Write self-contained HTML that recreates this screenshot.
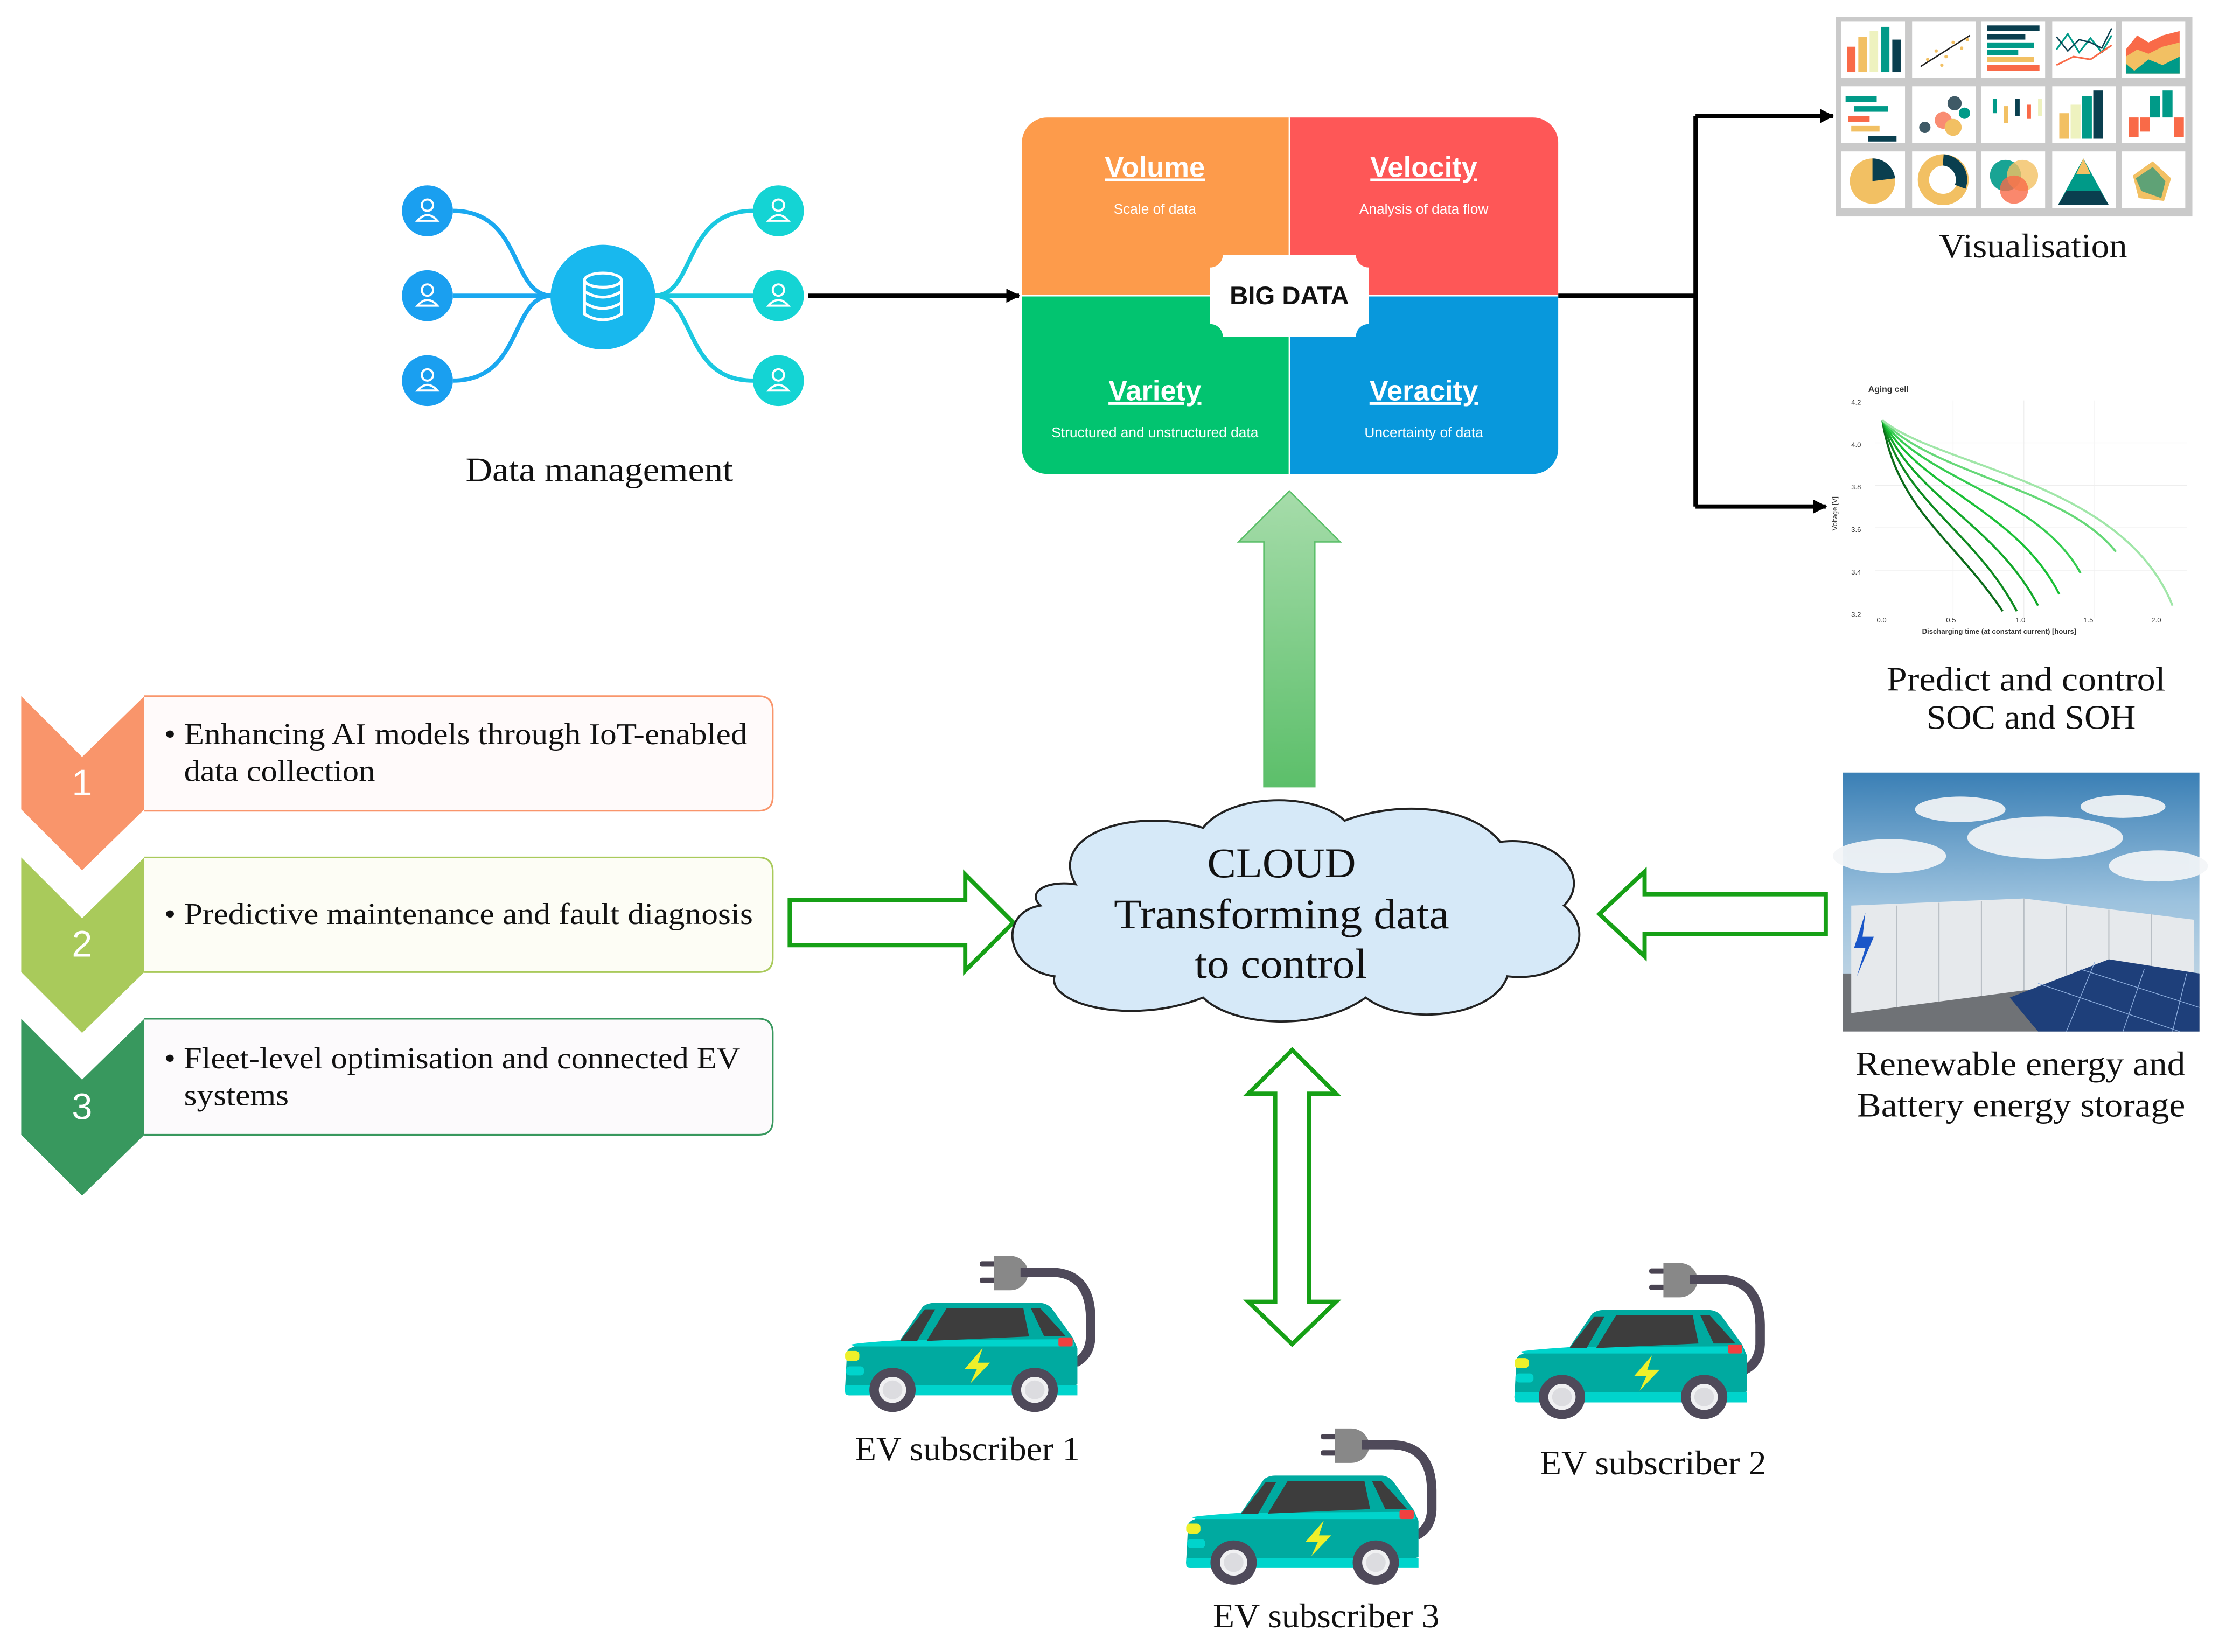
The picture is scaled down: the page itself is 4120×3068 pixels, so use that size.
<!DOCTYPE html>
<html><head><meta charset="utf-8"><style>
html,body{margin:0;padding:0;background:#fff}
svg{display:block}
.serif{font-family:"Liberation Serif",serif;fill:#111}
.sans{font-family:"Liberation Sans",sans-serif}
</style></head><body>
<svg width="4120" height="3068" viewBox="0 0 1560 1161.7" preserveAspectRatio="none" xmlns="http://www.w3.org/2000/svg">
<defs>
<marker id="ah" markerWidth="10" markerHeight="10" refX="9" refY="5" orient="auto" markerUnits="userSpaceOnUse"><path d="M0,0 L10,5 L0,10 Z" fill="#000"/></marker>
<linearGradient id="upg" x1="0" y1="0" x2="0" y2="1"><stop offset="0" stop-color="#a6dcaa"/><stop offset="1" stop-color="#5cbf6a"/></linearGradient>
<linearGradient id="sky" x1="0" y1="0" x2="0" y2="1"><stop offset="0" stop-color="#3a7fb5"/><stop offset="0.5" stop-color="#9cc2de"/><stop offset="1" stop-color="#d3dee6"/></linearGradient>
<g id="car">
<rect x="760" y="140" width="85" height="30" rx="12" fill="#4a4452"/>
<rect x="760" y="230" width="85" height="30" rx="12" fill="#4a4452"/>
<path d="M835,110 H920 A95,95 0 0 1 920,300 H835 Z" fill="#888"/>
<path d="M975,200 H1140 Q1340,205 1345,450 V560 Q1340,660 1265,700" stroke="#4f4a5a" stroke-width="50" fill="none"/>
<path d="M60,640 Q70,610 140,600 L340,575 L460,390 Q485,370 520,370 L1080,370 Q1115,372 1140,400 L1250,560 L1275,620 L1275,820 Q1200,840 1150,870 L70,880 Q45,870 50,840 Z" fill="#00aaa0"/>
<path d="M50,825 H1275 V880 H70 Q50,880 50,860 Z" fill="#00d4cc"/>
<path d="M80,600 Q120,590 340,575 L1250,570 L1260,610 H100 Z" fill="#00d4cc"/>
<path d="M340,580 L470,405 L525,405 L430,580 Z" fill="#3d3d3d"/>
<path d="M480,580 L585,400 L990,400 L1020,555 Z" fill="#3d3d3d"/>
<path d="M1030,400 L1080,400 L1215,555 L1100,555 Z" fill="#3d3d3d"/>
<rect x="1175" y="560" width="75" height="50" rx="10" fill="#f04040"/>
<rect x="50" y="635" width="75" height="55" rx="20" fill="#eef02a"/>
<rect x="55" y="720" width="95" height="50" rx="20" fill="#00d4cc"/>
<path d="M775,620 L680,735 L745,735 L710,815 L815,700 L750,700 Z" fill="#eef02a"/>
<circle cx="300" cy="850" r="122" fill="#4f4a5a"/><circle cx="300" cy="850" r="72" fill="#f0f0f2"/><circle cx="300" cy="850" r="52" fill="#dcdce0"/>
<circle cx="1050" cy="850" r="122" fill="#4f4a5a"/><circle cx="1050" cy="850" r="72" fill="#f0f0f2"/><circle cx="1050" cy="850" r="52" fill="#dcdce0"/>
</g>
</defs>
<g transform="scale(0.995)">

<!-- Data management -->
<g fill="none" stroke-width="3">
<path d="M320,149 C370,149 360,209 390,209" stroke="#1aa8f0"/>
<path d="M320,209 H390" stroke="#1aa8f0"/>
<path d="M320,269 C370,269 360,209 390,209" stroke="#1aa8f0"/>
<path d="M532,149 C482,149 492,209 462,209" stroke="#1ac8e0"/>
<path d="M532,209 H462" stroke="#1ac8e0"/>
<path d="M532,269 C482,269 492,209 462,209" stroke="#1ac8e0"/>
</g>
<circle cx="426" cy="210" r="37" fill="#18b8ee"/>
<g fill="none" stroke="#fff" stroke-width="2"><ellipse cx="426" cy="198" rx="13" ry="5"/><path d="M413,198 V222 Q426,230 439,222 V198 M413,206 Q426,214 439,206 M413,214 Q426,222 439,214"/></g>
<g fill="#1a9ff0"><circle cx="302" cy="149" r="18"/><circle cx="302" cy="209" r="18"/><circle cx="302" cy="269" r="18"/></g>
<g fill="#14d4d4"><circle cx="550" cy="149" r="18"/><circle cx="550" cy="209" r="18"/><circle cx="550" cy="269" r="18"/></g>
<g fill="none" stroke="#fff" stroke-width="1.5">
<circle cx="302" cy="145" r="4"/><path d="M295,156 Q302,148 309,156 Z"/>
<circle cx="302" cy="205" r="4"/><path d="M295,216 Q302,208 309,216 Z"/>
<circle cx="302" cy="265" r="4"/><path d="M295,276 Q302,268 309,276 Z"/>
<circle cx="550" cy="145" r="4"/><path d="M543,156 Q550,148 557,156 Z"/>
<circle cx="550" cy="205" r="4"/><path d="M543,216 Q550,208 557,216 Z"/>
<circle cx="550" cy="265" r="4"/><path d="M543,276 Q550,268 557,276 Z"/>
</g>
<text x="329" y="340" class="serif" font-size="24" textLength="189" lengthAdjust="spacingAndGlyphs">Data management</text>
<line x1="571" y1="209" x2="720" y2="209" stroke="#000" stroke-width="3" marker-end="url(#ah)"/>

<!-- Big data -->
<clipPath id="bdc"><rect x="722" y="83" width="379" height="252" rx="18"/></clipPath>
<g clip-path="url(#bdc)">
<rect x="722" y="83" width="189" height="126" fill="#fd9b4b"/>
<rect x="911" y="83" width="190" height="126" fill="#fe5757"/>
<rect x="722" y="209" width="189" height="126" fill="#02c470"/>
<rect x="911" y="209" width="190" height="126" fill="#0898dc"/>
</g>
<line x1="911" y1="83" x2="911" y2="335" stroke="#fff" stroke-width="1"/>
<line x1="722" y1="209" x2="1101" y2="209" stroke="#fff" stroke-width="1"/>
<path d="M864,180 H958 A9,9 0 0 0 967,189 V229 A9,9 0 0 0 958,238 H864 A9,9 0 0 0 855,229 V189 A9,9 0 0 0 864,180 Z" fill="#fff"/>
<text x="911" y="215" class="sans" font-size="18" font-weight="bold" text-anchor="middle" fill="#111">BIG DATA</text>
<g class="sans" fill="#fff" text-anchor="middle">
<text x="816" y="125" font-size="20" font-weight="bold" text-decoration="underline">Volume</text>
<text x="1006" y="125" font-size="20" font-weight="bold" text-decoration="underline">Velocity</text>
<text x="816" y="283" font-size="20" font-weight="bold" text-decoration="underline">Variety</text>
<text x="1006" y="283" font-size="20" font-weight="bold" text-decoration="underline">Veracity</text>
<text x="816" y="151" font-size="10">Scale of data</text>
<text x="1006" y="151" font-size="10">Analysis of data flow</text>
<text x="816" y="309" font-size="10">Structured and unstructured data</text>
<text x="1006" y="309" font-size="10">Uncertainty of data</text>
</g>
<polyline points="1101,209 1198,209" stroke="#000" stroke-width="3" fill="none"/>
<line x1="1198" y1="82" x2="1198" y2="358" stroke="#000" stroke-width="3"/>
<line x1="1198" y1="82" x2="1295" y2="82" stroke="#000" stroke-width="3" marker-end="url(#ah)"/>
<line x1="1198" y1="358" x2="1290" y2="358" stroke="#000" stroke-width="3" marker-end="url(#ah)"/>

<!-- Visualisation grid -->
<rect x="1297" y="12" width="252" height="141" fill="#cacaca"/>
<g fill="#fff">
<rect x="1301" y="15" width="45" height="40"/><rect x="1351" y="15" width="45" height="40"/><rect x="1400" y="15" width="45" height="40"/><rect x="1450" y="15" width="45" height="40"/><rect x="1499" y="15" width="45" height="40"/>
<rect x="1301" y="61" width="45" height="40"/><rect x="1351" y="61" width="45" height="40"/><rect x="1400" y="61" width="45" height="40"/><rect x="1450" y="61" width="45" height="40"/><rect x="1499" y="61" width="45" height="40"/>
<rect x="1301" y="107" width="45" height="40"/><rect x="1351" y="107" width="45" height="40"/><rect x="1400" y="107" width="45" height="40"/><rect x="1450" y="107" width="45" height="40"/><rect x="1499" y="107" width="45" height="40"/>
</g>
<g>
<rect x="1305" y="33" width="6" height="18" fill="#f96a48"/><rect x="1313" y="26" width="6" height="25" fill="#f2c063"/><rect x="1321" y="22" width="6" height="29" fill="#eef2bf"/><rect x="1329" y="19" width="6" height="32" fill="#009a88"/><rect x="1337" y="28" width="6" height="23" fill="#0a3f4f"/>
<line x1="1357" y1="47" x2="1392" y2="25" stroke="#222"/>
<g fill="#f2c063"><circle cx="1362" cy="42" r="1.2"/><circle cx="1368" cy="36" r="1.2"/><circle cx="1375" cy="40" r="1.2"/><circle cx="1380" cy="30" r="1.2"/><circle cx="1386" cy="34" r="1.2"/><circle cx="1372" cy="46" r="1.2"/><circle cx="1390" cy="28" r="1.2"/></g>
<rect x="1404" y="18" width="37" height="4" fill="#0a3f4f"/><rect x="1404" y="24" width="27" height="4" fill="#0a3f4f"/><rect x="1404" y="30" width="33" height="4" fill="#009a88"/><rect x="1404" y="35" width="22" height="4" fill="#009a88"/><rect x="1404" y="40" width="33" height="4" fill="#f2c063"/><rect x="1404" y="46" width="37" height="4" fill="#f96a48"/>
<polyline points="1453,35 1461,24 1469,37 1477,27 1485,37 1492,25" fill="none" stroke="#009a88" stroke-width="1.2"/><polyline points="1453,26 1461,36 1469,28 1477,30 1485,34 1492,20" fill="none" stroke="#0a3f4f" stroke-width="1"/><polyline points="1453,46 1465,40 1477,42 1492,32" fill="none" stroke="#f96a48" stroke-width="1.2"/>
<path d="M1502,35 L1510,25 L1518,30 L1528,25 L1540,22 V52 H1502 Z" fill="#f96a48"/><path d="M1502,40 L1510,35 L1518,38 L1528,33 L1540,30 V52 H1502 Z" fill="#f2c063"/><path d="M1502,45 L1508,50 L1518,42 L1528,46 L1540,40 V52 H1502 Z" fill="#009a88"/>
<rect x="1304" y="68" width="22" height="4" fill="#009a88"/><rect x="1310" y="75" width="24" height="4" fill="#009a88"/><rect x="1306" y="82" width="15" height="4" fill="#f96a48"/><rect x="1308" y="89" width="20" height="4" fill="#f2c063"/><rect x="1320" y="96" width="20" height="4" fill="#0a3f4f"/>
<circle cx="1381" cy="73" r="5" fill="#3f5a66"/><circle cx="1373" cy="85" r="6" fill="#f98c72"/><circle cx="1380" cy="90" r="6" fill="#f2c063"/><circle cx="1388" cy="80" r="4" fill="#009a88"/><circle cx="1360" cy="90" r="4" fill="#3f5a66"/>
<rect x="1408" y="70" width="3" height="10" fill="#009a88"/><rect x="1416" y="75" width="3" height="12" fill="#f2c063"/><rect x="1424" y="70" width="3" height="12" fill="#0a3f4f"/><rect x="1432" y="74" width="3" height="10" fill="#f96a48"/><rect x="1440" y="70" width="3" height="12" fill="#eef2bf"/>
<rect x="1455" y="80" width="7" height="18" fill="#f2c063"/><rect x="1463" y="74" width="7" height="24" fill="#eef2bf"/><rect x="1471" y="68" width="7" height="30" fill="#009a88"/><rect x="1479" y="64" width="7" height="34" fill="#0a3f4f"/>
<rect x="1519" y="68" width="7" height="15" fill="#009a88"/><rect x="1528" y="64" width="7" height="19" fill="#009a88"/><rect x="1504" y="83" width="7" height="14" fill="#f96a48"/><rect x="1512" y="83" width="7" height="10" fill="#f96a48"/><rect x="1536" y="83" width="7" height="14" fill="#f96a48"/>
<circle cx="1323" cy="128" r="16" fill="#f2c063"/><path d="M1323,128 V112 A16,16 0 0 1 1339,126 Z" fill="#0a3f4f"/>
<circle cx="1373" cy="127" r="14" fill="none" stroke="#f2c063" stroke-width="8"/><path d="M1373,113 A14,14 0 0 1 1385,132" fill="none" stroke="#0a3f4f" stroke-width="8"/>
<circle cx="1417" cy="124" r="11" fill="#009a88" opacity="0.9"/><circle cx="1429" cy="124" r="11" fill="#f2c063" opacity="0.8"/><circle cx="1423" cy="134" r="10" fill="#f96a48" opacity="0.8"/>
<path d="M1472,112 L1490,145 H1454 Z" fill="#009a88"/><path d="M1472,112 L1477,123 H1467 Z" fill="#f2c063"/><path d="M1460,135 H1484 L1490,145 H1454 Z" fill="#0a3f4f"/>
<path d="M1521,114 L1534,126 L1529,142 L1511,140 L1507,124 Z" fill="#f2c063"/><path d="M1521,118 L1530,128 L1527,140 L1513,135 L1509,126 Z" fill="#3a9a7a" opacity="0.8"/>
</g>
<text x="1370" y="182" class="serif" font-size="24" textLength="133" lengthAdjust="spacingAndGlyphs">Visualisation</text>

<!-- chart -->
<g class="sans" font-size="5" fill="#333">
<text x="1320" y="277" font-weight="bold" font-size="6">Aging cell</text>
<text x="1308" y="286">4.2</text><text x="1308" y="316">4.0</text><text x="1308" y="346">3.8</text><text x="1308" y="376">3.6</text><text x="1308" y="406">3.4</text><text x="1308" y="436">3.2</text>
<text x="1326" y="440">0.0</text><text x="1375" y="440">0.5</text><text x="1424" y="440">1.0</text><text x="1472" y="440">1.5</text><text x="1520" y="440">2.0</text>
<text x="1358" y="448" font-weight="bold">Discharging time (at constant current) [hours]</text>
<text x="1298" y="375" transform="rotate(-90 1298 375)">Voltage [V]</text>
</g>
<g stroke="#eee" stroke-width="0.5"><line x1="1325" y1="313" x2="1545" y2="313"/><line x1="1325" y1="343" x2="1545" y2="343"/><line x1="1325" y1="373" x2="1545" y2="373"/><line x1="1325" y1="403" x2="1545" y2="403"/><line x1="1380" y1="283" x2="1380" y2="437"/><line x1="1430" y1="283" x2="1430" y2="437"/><line x1="1480" y1="283" x2="1480" y2="437"/></g>
<g fill="none" stroke-width="1.5">
<path d="M1330,297 C1340,360 1380,380 1415,432" stroke="#0b6b1a"/>
<path d="M1330,297 C1345,355 1395,375 1425,432" stroke="#0e8a20"/>
<path d="M1330,297 C1350,350 1410,370 1440,428" stroke="#12a82a"/>
<path d="M1330,297 C1355,345 1425,360 1455,420" stroke="#19c035"/>
<path d="M1330,297 C1360,340 1440,350 1470,405" stroke="#35cc50"/>
<path d="M1330,297 C1365,335 1460,345 1495,390" stroke="#66d878"/>
<path d="M1330,297 C1370,330 1500,340 1535,428" stroke="#a0e6a8"/>
</g>
<text x="1333" y="488" class="serif" font-size="24" textLength="197" lengthAdjust="spacingAndGlyphs">Predict and control</text>
<text x="1361" y="515" class="serif" font-size="24" textLength="148" lengthAdjust="spacingAndGlyphs">SOC and SOH</text>

<!-- renewable image -->
<rect x="1302" y="546" width="252" height="183" fill="url(#sky)"/>
<g fill="#f3f5f7" opacity="0.92"><ellipse cx="1335" cy="605" rx="40" ry="12"/><ellipse cx="1445" cy="592" rx="55" ry="15"/><ellipse cx="1525" cy="612" rx="35" ry="11"/><ellipse cx="1385" cy="572" rx="32" ry="9"/><ellipse cx="1500" cy="570" rx="30" ry="8"/></g>
<rect x="1302" y="688" width="252" height="41" fill="#6f7276"/>
<path d="M1308,640 L1430,635 L1550,650 L1550,695 L1430,700 L1308,716 Z" fill="#e6e9ec"/>
<g stroke="#b9bfc5" stroke-width="0.8"><line x1="1340" y1="640" x2="1340" y2="712"/><line x1="1370" y1="638" x2="1370" y2="708"/><line x1="1400" y1="637" x2="1400" y2="704"/><line x1="1430" y1="635" x2="1430" y2="700"/><line x1="1460" y1="640" x2="1460" y2="698"/><line x1="1490" y1="643" x2="1490" y2="697"/><line x1="1520" y1="646" x2="1520" y2="696"/></g>
<path d="M1420,705 L1490,678 L1554,688 L1554,729 L1440,729 Z" fill="#1e3f7a"/>
<g stroke="#8fb0e0" stroke-width="0.5"><line x1="1440" y1="695" x2="1540" y2="729"/><line x1="1470" y1="685" x2="1554" y2="712"/><line x1="1480" y1="680" x2="1460" y2="729"/><line x1="1515" y1="685" x2="1500" y2="729"/><line x1="1545" y1="688" x2="1535" y2="729"/></g>
<path d="M1318,645 L1310,670 L1318,670 L1312,690 L1324,662 L1316,662 Z" fill="#1a56c8"/>
<text x="1311" y="760" class="serif" font-size="24" textLength="233" lengthAdjust="spacingAndGlyphs">Renewable energy and</text>
<text x="1312" y="789" class="serif" font-size="24" textLength="232" lengthAdjust="spacingAndGlyphs">Battery energy storage</text>

<!-- arrows to cloud -->
<path d="M558,636 H682 V618 L716,652 L682,686 V668 H558 Z" fill="#fff" stroke="#16a016" stroke-width="3"/>
<path d="M1290,632 H1162 V616 L1130,646 L1162,676 V660 H1290 Z" fill="#fff" stroke="#16a016" stroke-width="3"/>
<path d="M893,556 V383 H875 L911,347 L947,383 H929 V556 Z" fill="url(#upg)" stroke="#5cbf6a" stroke-width="1"/>
<path d="M901,773 H882 L913,742 L944,773 H925 V920 H944 L913,950 L882,920 H901 Z" fill="#fff" stroke="#16a016" stroke-width="3"/>

<!-- cloud -->
<path d="M760,625 C740,590 800,570 850,585 C870,560 930,560 950,580 C990,565 1040,570 1060,595 C1100,590 1125,620 1105,640 C1130,660 1110,695 1065,690 C1055,720 990,725 965,705 C930,730 870,725 850,705 C800,725 740,710 745,690 C710,685 705,645 735,640 C725,630 740,622 760,625 Z" fill="#d6e9f8" stroke="#222" stroke-width="1.5"/>
<g class="serif" font-size="30">
<text x="853" y="620" textLength="105" lengthAdjust="spacingAndGlyphs">CLOUD</text>
<text x="787" y="656" textLength="237" lengthAdjust="spacingAndGlyphs">Transforming data</text>
<text x="844" y="691" textLength="122" lengthAdjust="spacingAndGlyphs">to control</text>
</g>

<!-- left list -->
<path d="M15,492 L58,535 L102,492 V572 L58,615 L15,572 Z" fill="#f9956b"/>
<path d="M15,606 L58,649 L102,606 V687 L58,730 L15,687 Z" fill="#a9ca5b"/>
<path d="M15,720 L58,763 L102,720 V802 L58,845 L15,802 Z" fill="#38985e"/>
<g class="sans" font-size="26" fill="#fff" text-anchor="middle"><text x="58" y="562">1</text><text x="58" y="676">2</text><text x="58" y="791">3</text></g>
<path d="M102,492 H536 Q546,492 546,502 V563 Q546,573 536,573 H102" fill="#fffafa" stroke="#f9956b" stroke-width="1.2"/>
<path d="M102,606 H536 Q546,606 546,616 V677 Q546,687 536,687 H102" fill="#fdfdf5" stroke="#a9ca5b" stroke-width="1.2"/>
<path d="M102,720 H536 Q546,720 546,730 V792 Q546,802 536,802 H102" fill="#fcfafc" stroke="#38985e" stroke-width="1.2"/>
<g class="serif" font-size="21.5">
<text x="116" y="526" textLength="412" lengthAdjust="spacingAndGlyphs">• Enhancing AI models through IoT-enabled</text>
<text x="130" y="552" textLength="135" lengthAdjust="spacingAndGlyphs">data collection</text>
<text x="116" y="653" textLength="416" lengthAdjust="spacingAndGlyphs">• Predictive maintenance and fault diagnosis</text>
<text x="116" y="755" textLength="407" lengthAdjust="spacingAndGlyphs">• Fleet-level optimisation and connected EV</text>
<text x="130" y="781" textLength="74" lengthAdjust="spacingAndGlyphs">systems</text>
</g>

<!-- cars -->
<use href="#car" transform="translate(590.4,873.5) scale(0.134,0.128)"/>
<use href="#car" transform="translate(1063.4,878.5) scale(0.134,0.128)"/>
<use href="#car" transform="translate(831.4,995.5) scale(0.134,0.128)"/>
<g class="serif" font-size="24">
<text x="604" y="1032" textLength="159" lengthAdjust="spacingAndGlyphs">EV subscriber 1</text>
<text x="1088" y="1042" textLength="160" lengthAdjust="spacingAndGlyphs">EV subscriber 2</text>
<text x="857" y="1150" textLength="160" lengthAdjust="spacingAndGlyphs">EV subscriber 3</text>
</g>
</g>
</svg>
</body></html>
